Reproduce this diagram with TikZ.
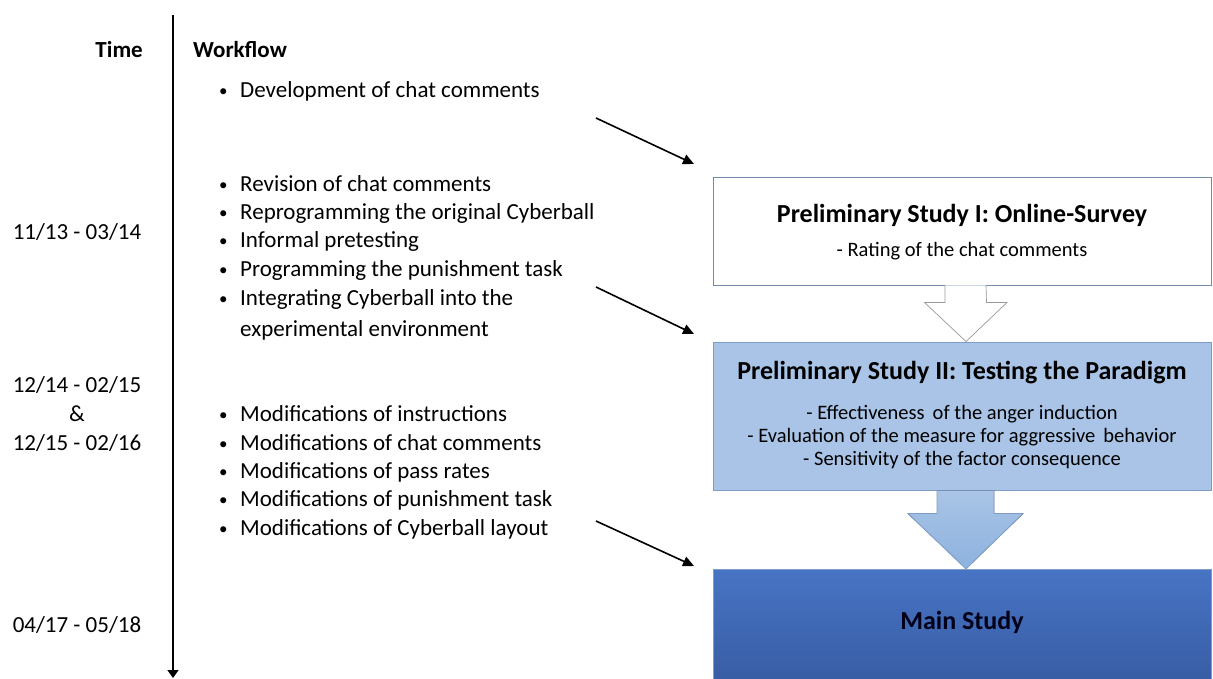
\documentclass[tikz,border=0pt]{standalone}
\usepackage{fontspec}
\setmainfont{Carlito}
\usetikzlibrary{arrows.meta,calc}

\definecolor{boxedge}{HTML}{7189AD}
\definecolor{paleblue}{HTML}{A9C4E6}
\definecolor{paleedge}{HTML}{7D9CC6}
\definecolor{deeptop}{HTML}{4874C4}
\definecolor{deepbot}{HTML}{33579C}
\definecolor{arrowbot}{HTML}{8DB2DF}
\definecolor{hollowedge}{HTML}{999999}

\tikzset{
  x=1pt, y=-1pt,
  listtext/.style={anchor=west, inner sep=0pt, font=\fontsize{23}{28.8}\selectfont},
  timetext/.style={inner sep=0pt, align=center, font=\fontsize{23}{28.8}\selectfont},
  headtext/.style={inner sep=0pt, font=\bfseries\fontsize{23}{28}\selectfont},
  studybox/.style={rectangle, minimum width=498pt, inner sep=0pt, line width=0.9pt},
  boxtitle/.style={inner sep=0pt, font=\bfseries\fontsize{26}{30}\selectfont},
  boxbody/.style={inner sep=0pt, align=center, font=\fontsize{20.5}{22.6}\selectfont},
  steparrow/.style={line width=1.6pt, -{Triangle[length=11pt,width=10pt]}},
}
\newcommand{\bul}{\makebox[23pt][l]{\kern2pt\raisebox{1pt}{\fontsize{17}{17}\selectfont•}}}

\begin{document}
\begin{tikzpicture}
\useasboundingbox (0,0) rectangle (1213,678);
\clip (0,0) rectangle (1213,678);

% time axis
\coordinate (axistop) at (173,15);
\coordinate (axisbot) at (173,678);
\draw[line width=1.6pt, -{Triangle[length=8pt,width=11pt]}] (axistop) -- (axisbot);

% column headings
\node[headtext, anchor=east] (timehead) at (143,50) {Time};
\node[headtext, anchor=west] (flowhead) at (193,50) {Workflow};

% time periods
\node[timetext] (t1) at (77,232) {11/13 - 03/14};
\node[timetext] (t2) at (77,414) {12/14 - 02/15\\\&\\12/15 - 02/16};
\node[timetext] (t3) at (77,625) {04/17 - 05/18};

% workflow items
\node[listtext] (w1) at (217,91) {\bul Development of chat comments};

\node[listtext] (w2) at (217,184) {\bul Revision of chat comments};
\node[listtext] (w3) at (217,213) {\bul Reprogramming the original Cyberball};
\node[listtext] (w4) at (217,241) {\bul Informal pretesting};
\node[listtext] (w5) at (217,270) {\bul Programming the punishment task};
\node[listtext] (w6) at (217,299) {\bul Integrating Cyberball into the};
\node[listtext] (w7) at (240,330) {experimental environment};

\node[listtext] (w8)  at (217,414) {\bul Modifications of instructions};
\node[listtext] (w9)  at (217,443) {\bul Modifications of chat comments};
\node[listtext] (w10) at (217,472) {\bul Modifications of pass rates};
\node[listtext] (w11) at (217,500) {\bul Modifications of punishment task};
\node[listtext] (w12) at (217,529) {\bul Modifications of Cyberball layout};

% study boxes
\node[studybox, draw=boxedge, fill=white, minimum height=108pt] (s1) at (962,231) {};
\node[boxtitle] (s1title) at (962,215) {Preliminary Study I: Online-Survey};
\node[boxbody] (s1body) at (962,251) {- Rating of the chat comments};

\node[studybox, draw=paleedge, fill=paleblue, minimum height=148pt] (s2) at (962,416) {};
\node[boxtitle] (s2title) at (962,373) {Preliminary Study II: Testing the Paradigm};
\node[boxbody] (s2body) at (962,437) {- Effectiveness\, of the anger induction\\- Evaluation of the measure for aggressive\, behavior\\- Sensitivity of the factor consequence};

\node[studybox, draw=paleedge, top color=deeptop, bottom color=deepbot, minimum height=140pt, anchor=north] (s3) at (962,569) {};
\node[boxtitle, text=black!90!blue] (s3title) at (962,622) {Main Study};

% block arrow from study I to study II (hollow)
\draw[hollowedge, fill=white, line width=0.7pt]
  ($(s1.south)+(-17,0)$) -- ++(0,17) -- ++(-20.5,0) -- ($(s2.north)+(4,0)$)
  -- ($(s1.south)+(45,17)$) -- ++(-20.5,0) -- ($(s1.south)+(24,0)$);

% block arrow from study II to main study (filled)
\fill[top color=paleblue, bottom color=arrowbot]
  ($(s2.south)+(-25,0.5)$) -- ++(0,23) -- ++(-29,0) -- ($(s3.north)+(4,-0.5)$)
  -- ($(s2.south)+(61,23.5)$) -- ++(-29,0) -- ($(s2.south)+(32,0.5)$) -- cycle;
\draw[paleedge, line width=0.8pt]
  ($(s2.south)+(-25,0)$) -- ++(0,23) -- ++(-29,0) -- ($(s3.north)+(4,0)$)
  -- ($(s2.south)+(61,23)$) -- ++(-29,0) -- ($(s2.south)+(32,0)$);

% arrows from workflow items to studies
\coordinate (a1s) at (596,118); \coordinate (a1e) at (694,164);
\coordinate (a2s) at (596,287); \coordinate (a2e) at (694,334);
\coordinate (a3s) at (596,521); \coordinate (a3e) at (694,566);
\draw[steparrow] (a1s) -- (a1e);
\draw[steparrow] (a2s) -- (a2e);
\draw[steparrow] (a3s) -- (a3e);
\end{tikzpicture}
\end{document}
